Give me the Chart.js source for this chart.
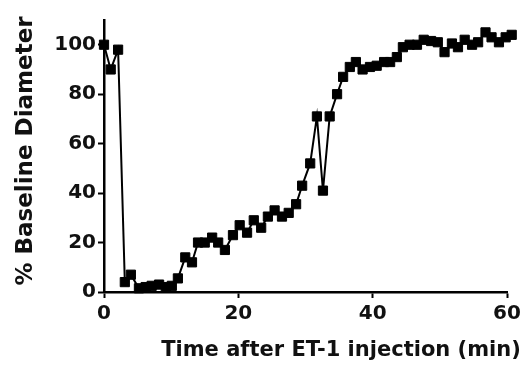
<!DOCTYPE html>
<html>
<head>
<meta charset="utf-8">
<title>% Baseline Diameter</title>
<script src="https://cdn.jsdelivr.net/npm/chart.js@4/dist/chart.umd.min.js"></script>
<style>
  html, body { margin: 0; padding: 0; background: #fff; }
  #wrap { width: 530px; height: 370px; }
</style>
</head>
<body>
<div id="wrap"><canvas id="chart" width="530" height="370"></canvas></div>
<script>
// values
const times = [0, 1, 2.1, 3.1, 4, 5.2, 6.2, 7.1, 8.2, 9.2, 10.1, 11, 12.1, 13.1, 14, 15, 16.1, 17, 18, 19.2,
  20.2, 21.3, 22.3, 23.4, 24.4, 25.4, 26.5, 27.5, 28.6, 29.5, 30.7, 31.7, 32.6, 33.6, 34.7, 35.6, 36.6, 37.5, 38.5, 39.6,
  40.6, 41.7, 42.6, 43.6, 44.5, 45.5, 46.6, 47.6, 48.7, 49.7, 50.7, 51.8, 52.7, 53.7, 54.8, 55.7, 56.8, 57.7, 58.8, 59.8, 60.7];
const diameter = [100, 90, 98, 4, 7, 1.5, 2, 2.5, 3, 2, 2.5, 5.5, 14, 12, 20, 20, 22, 20, 17, 23,
  27, 24, 29, 26, 30.5, 33, 30.5, 32, 35.5, 43, 52, 71, 41, 71, 80, 87, 91, 93, 90, 91,
  91.5, 93, 93, 95, 99, 100, 100, 102, 101.5, 101, 97, 100.5, 99, 102, 100, 101, 105, 103, 101, 103, 104];
const xTicks = [0, 20, 40, 60];
const yTicks = [0, 20, 40, 60, 80, 100];

const xTitle = 'Time after ET-1 injection (min)';
const yTitle = '% Baseline Diameter';

const points = times.map((t, i) => ({ x: t, y: diameter[i] }));

// axis titles drawn where the figure has them
const axisTitles = {
  id: 'axisTitles',
  afterDraw(chart) {
    const ctx = chart.ctx;
    ctx.save();
    ctx.fillStyle = '#111';
    ctx.textAlign = 'center';
    ctx.textBaseline = 'middle';
    ctx.font = 'bold 21px "DejaVu Sans"';
    ctx.fillText(xTitle, 341, 351);
    ctx.translate(26, 151);
    ctx.rotate(-Math.PI / 2);
    ctx.font = 'bold 23px "DejaVu Sans"';
    ctx.fillText(yTitle, 0, 0);
    ctx.restore();
  }
};

new Chart(document.getElementById('chart'), {
  type: 'line',
  data: {
    datasets: [{
      data: points,
      borderColor: '#000',
      borderWidth: 2,
      backgroundColor: '#000',
      pointStyle: 'rect',
      pointRadius: 6.5,
      pointBorderWidth: 1,
      pointBorderColor: '#000',
      pointBackgroundColor: '#000',
      tension: 0,
      clip: false
    }]
  },
  options: {
    responsive: false,
    animation: false,
    layout: { padding: { top: 20, right: 23, left: 0, bottom: 0 } },
    plugins: {
      legend: { display: false },
      tooltip: { enabled: false }
    },
    scales: {
      x: {
        type: 'linear',
        min: 0,
        max: 60,
        afterFit: (s) => { s.height = 78; },
        afterBuildTicks: (s) => { s.ticks = xTicks.map(v => ({ value: v })); },
        border: { color: '#000', width: 2.5 },
        grid: { drawOnChartArea: false, drawTicks: true, tickLength: 6, tickColor: '#000', tickWidth: 2 },
        ticks: { color: '#111', padding: 4, font: { family: 'DejaVu Sans', size: 20, weight: 'bold' } }
      },
      y: {
        min: 0,
        max: 110,
        afterFit: (s) => { s.width = 104; },
        afterBuildTicks: (s) => { s.ticks = yTicks.map(v => ({ value: v })); },
        border: { color: '#000', width: 2.5 },
        grid: { drawOnChartArea: false, drawTicks: true, tickLength: 6, tickColor: '#000', tickWidth: 2 },
        ticks: { color: '#111', padding: 2, font: { family: 'DejaVu Sans', size: 20, weight: 'bold' } }
      }
    }
  },
  plugins: [axisTitles]
});
</script>
</body>
</html>
